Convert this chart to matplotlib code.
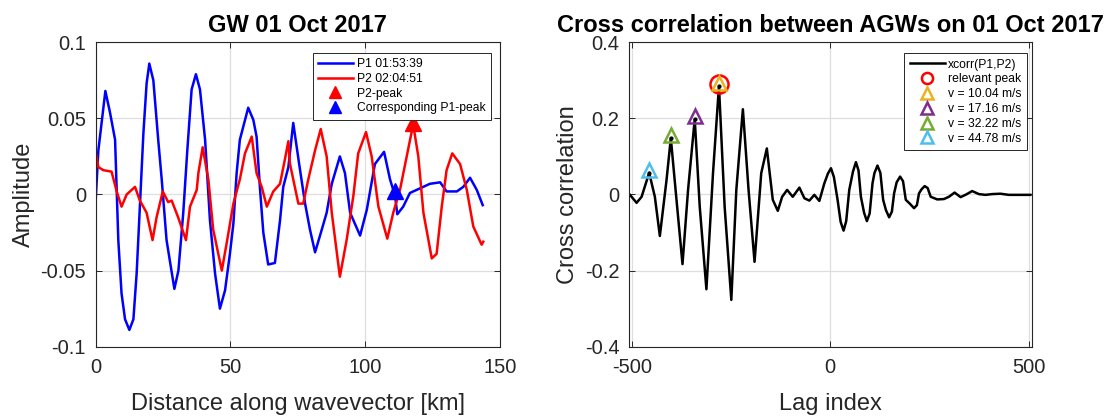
import numpy as np
import matplotlib
matplotlib.use("Agg")
import matplotlib.pyplot as plt

plt.rcParams["font.family"] = ["Liberation Sans", "DejaVu Sans"]
plt.rcParams["axes.unicode_minus"] = False

# ==================== data ====================

p1_km = [0, 1.0, 3.6, 5.3, 7.2, 8.4, 9.6, 10.9, 12.5, 14.0, 15.2, 16.4, 17.7, 18.9,
         19.9, 21.4, 23.2, 24.5, 26.3, 29.2, 30.7, 32.5, 34.0, 35.6, 37.2, 38.7,
         40.6, 42.4, 44.3, 46.1, 48.0, 49.8, 51.1, 52.3, 53.5, 56.6, 58.5, 59.7,
         61.0, 62.2, 64.0, 66.5, 68.4, 69.6, 71.5, 73.3, 75.5, 77.7, 79.5, 81.4,
         83.9, 85.7, 87.6, 90.6, 92.5, 94.4, 98.1, 100.6, 103.6, 107.0, 109.2,
         111.1, 111.9, 114.1, 116.6, 120.3, 124.0, 127.8, 130.2, 134.0, 136.4,
         138.9, 141.4, 143.6]
p1_amp = [-0.004, 0.029, 0.068, 0.054, 0.036, -0.030, -0.065, -0.082, -0.089, -0.082,
          -0.052, -0.008, 0.040, 0.073, 0.086, 0.075, 0.036, 0.010, -0.030, -0.062,
          -0.050, -0.012, 0.029, 0.069, 0.079, 0.069, 0.036, -0.017, -0.052, -0.075,
          -0.063, -0.039, -0.019, 0.014, 0.036, 0.057, 0.049, 0.038, 0.003, -0.025,
          -0.046, -0.045, -0.017, 0.005, 0.018, 0.047, 0.020, -0.006, -0.023, -0.038,
          -0.023, -0.012, 0.007, 0.025, 0.014, -0.012, -0.027, -0.010, 0.020, 0.028,
          0.010, -0.001, -0.013, -0.008, 0.001, 0.004, 0.007, 0.008, 0.002, 0.002,
          0.005, 0.011, 0.003, -0.007]

p2_km = [0, 1.0, 2.8, 5.9, 7.8, 9.6, 11.5, 14.6, 16.4, 18.9, 21.1, 22.6, 24.9, 26.9,
         28.2, 30.6, 33.5, 35.0, 37.5, 38.1, 39.7, 41.8, 43.6, 46.8, 48.6, 51.1,
         53.5, 55.4, 57.9, 59.7, 61.6, 63.5, 65.9, 68.4, 70.2, 71.5, 72.1, 75.2,
         77.0, 78.9, 81.4, 83.5, 85.7, 87.6, 90.6, 93.1, 95.6, 97.4, 100.3, 102.4,
         104.9, 108.2, 110.4, 112.9, 115.4, 117.8, 119.7, 121.6, 124.7, 126.5,
         128.4, 130.2, 132.3, 135.2, 137.7, 140.1, 143.2, 143.8]
p2_amp = [0.028, 0.018, 0.016, 0.015, 0.002, -0.008, 0.000, 0.005, -0.004, -0.012,
          -0.030, -0.015, 0.002, -0.005, -0.004, -0.015, -0.030, -0.008, 0.003, 0.014,
          0.031, 0.010, -0.023, -0.050, -0.032, -0.006, 0.010, 0.027, 0.038, 0.014,
          0.005, -0.008, 0.002, 0.007, 0.023, 0.035, 0.020, -0.006, -0.006, 0.010,
          0.029, 0.043, 0.025, -0.012, -0.054, -0.030, -0.001, 0.027, 0.041, 0.025,
          -0.008, -0.029, -0.012, 0.003, 0.025, 0.046, 0.025, -0.012, -0.042, -0.039,
          -0.008, 0.016, 0.027, 0.020, 0.003, -0.021, -0.033, -0.031]

p2_peak = (117.8, 0.047)
p1_peak = (111.1, 0.002)

lag = [-506, -487.6, -475, -456, -441.7, -429.1, -412.3, -401.5, -387.2, -372.1,
       -358.1, -341.3, -328.7, -311.9, -295.3, -280.3, -266, -249.2, -236.6, -220.1,
       -205.8, -190.7, -173.9, -159.8, -144.8, -132.2, -121.2, -108.7, -94.6, -77.8,
       -65.2, -52.7, -40.2, -27.6, -15.1, -6, 1.7, 9, 18.3, 26, 33.4, 40, 47.7, 57,
       64.5, 71, 77, 85, 92.1, 99, 106.2, 111, 118.7, 126, 133, 140, 148.1, 155,
       160.6, 167, 175.7, 183, 190, 200, 210.8, 218, 223.3, 230, 237.6, 245, 252.7,
       269.3, 286.1, 298.6, 312.9, 328, 342, 357.1, 373.9, 390.7, 407.3, 428.4,
       449.2, 474.3, 499.4, 503.6]
xc = [0.001, -0.022, -0.006, 0.057, -0.006, -0.109, 0.038, 0.148, -0.014, -0.183,
      0.012, 0.198, -0.032, -0.249, 0.056, 0.285, -0.032, -0.277, 0.012, 0.224,
      0.012, -0.177, 0.056, 0.121, -0.014, -0.043, -0.006, 0.012, -0.006, 0.018,
      -0.010, -0.016, -0.001, -0.017, 0.029, 0.055, 0.069, 0.046, -0.014, -0.072,
      -0.095, -0.070, 0.012, 0.060, 0.085, 0.063, -0.006, -0.048, -0.070, -0.050,
      0.029, 0.056, 0.076, 0.057, -0.014, -0.041, -0.060, -0.045, 0.003, 0.032,
      0.047, 0.035, -0.014, -0.024, -0.036, -0.028, 0.003, 0.014, 0.022, 0.017,
      -0.006, -0.013, -0.012, -0.006, 0.005, -0.007, 0.0, 0.009, 0.001, -0.001,
      0.001, 0.002, -0.001, -0.001, -0.001, -0.001]

peak_lag = [-280.3, -341.3, -401.5, -456]
peak_val = [0.285, 0.198, 0.148, 0.057]
speed_labels = ["v = 10.04 m/s", "v = 17.16 m/s", "v = 32.22 m/s", "v = 44.78 m/s"]
speed_colors = ["#EDB120", "#7E2F8E", "#77AC30", "#4DBEEE"]

# ==================== figure ====================

fig = plt.figure(figsize=(11.15, 4.19), dpi=100)
ax1 = fig.add_axes([0.0858, 0.1726, 0.3626, 0.7265])
ax2 = fig.add_axes([0.5644, 0.1726, 0.3609, 0.7265])

axcol = "#262626"


def style_axes(ax):
    ax.grid(True, color="#dedede", linewidth=0.9)
    ax.set_axisbelow(True)
    for s in ax.spines.values():
        s.set_color(axcol)
        s.set_linewidth(0.8)
    ax.tick_params(direction="in", top=True, right=True, length=4, width=0.7,
                   colors=axcol, labelsize=14.5)
    ax.tick_params(axis="x", pad=8.5)
    ax.tick_params(axis="y", pad=7)


def style_legend(leg, sizes):
    leg.get_frame().set_linewidth(0.7)
    for h, ms in zip(leg.legend_handles, sizes):
        if ms:
            h.set_markersize(ms)


legkw = dict(loc="upper right", fontsize=8.7, frameon=True, fancybox=False,
             edgecolor=axcol, framealpha=1, borderpad=0.45, labelspacing=0.23,
             handlelength=2.9, handletextpad=0.3, borderaxespad=0)

# --- left: the two profiles ---
ax1.plot(p1_km, p1_amp, color="b", lw=1.8, label="P1 01:53:39")
ax1.plot(p2_km, p2_amp, color="r", lw=1.8, label="P2 02:04:51")
ax1.plot(*p2_peak, "^", color="r", ms=11, ls="none", label="P2-peak")
ax1.plot(*p1_peak, "^", color="b", ms=11, ls="none", label="Corresponding P1-peak")
ax1.set_xlim(0, 150)
ax1.set_ylim(-0.1, 0.1)
ax1.set_xticks([0, 50, 100, 150])
ax1.set_yticks([-0.1, -0.05, 0, 0.05, 0.1])
ax1.set_yticklabels(["-0.1", "-0.05", "0", "0.05", "0.1"])
style_axes(ax1)
ax1.set_xlabel("Distance along wavevector [km]", fontsize=17, color=axcol, labelpad=11)
ax1.set_ylabel("Amplitude", fontsize=17, color=axcol, labelpad=4)
ax1.set_title("GW 01 Oct 2017", fontsize=17, fontweight="bold", pad=7.6)
leg1 = ax1.legend(bbox_to_anchor=(0.977, 0.966), **legkw)
style_legend(leg1, [None, None, 8.5, 8.5])

# --- right: cross correlation ---
ax2.plot(lag, xc, color="k", lw=1.8, label="xcorr(P1,P2)")
ax2.plot(peak_lag[0], peak_val[0] + 0.005, "o", ms=13, mfc="none", mec="r", mew=1.8,
         ls="none", label="relevant peak")
for lg, pv, lab, col in zip(peak_lag, peak_val, speed_labels, speed_colors):
    ax2.plot(lg, pv + 0.008, "^", ms=10, mfc="none", mec=col, mew=1.8, ls="none",
             label=lab)
ax2.plot(peak_lag, peak_val, ".", color="k", ms=4)
ax2.set_xlim(-506, 507)
ax2.set_ylim(-0.4, 0.4)
ax2.set_xticks([-500, 0, 500])
ax2.set_yticks([-0.4, -0.2, 0, 0.2, 0.4])
ax2.set_yticklabels(["-0.4", "-0.2", "0", "0.2", "0.4"])
style_axes(ax2)
ax2.set_xlabel("Lag index", fontsize=17, color=axcol, labelpad=11)
ax2.set_ylabel("Cross correlation", fontsize=17, color=axcol, labelpad=4)
ax2.set_title("Cross correlation between AGWs on 01 Oct 2017", fontsize=17,
              fontweight="bold", pad=7.6)
leg2 = ax2.legend(bbox_to_anchor=(0.989, 0.964), **legkw)
style_legend(leg2, [None, 8, 8.5, 8.5, 8.5, 8.5])

fig.savefig("out.png", dpi=100)
